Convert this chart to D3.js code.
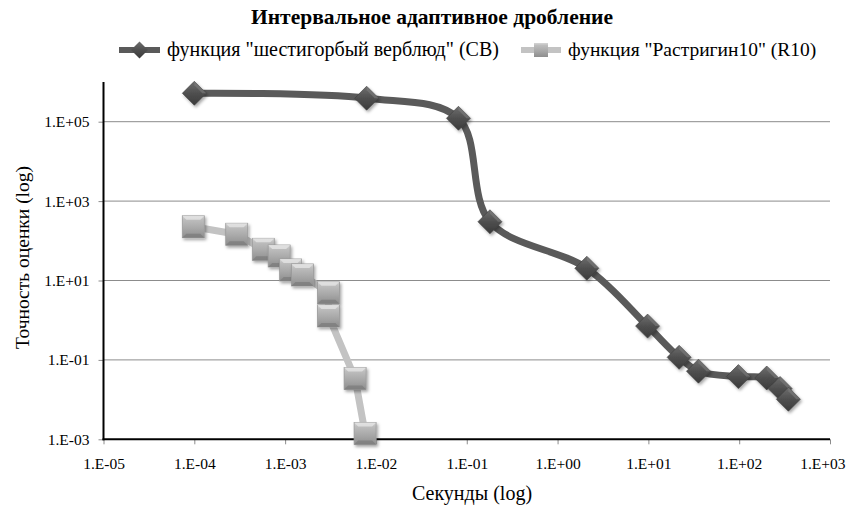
<!DOCTYPE html>
<html>
<head>
<meta charset="utf-8">
<script src="https://cdn.jsdelivr.net/npm/d3@7/dist/d3.min.js"></script>
<style>
  html, body { margin: 0; padding: 0; background: #fff; }
</style>
</head>
<body>
<svg id="chart" width="849" height="513"></svg>
<script>
// Camel (CB) series: time in seconds vs accuracy
const cbSeconds  = [1.0e-4, 7.9e-3, 0.081, 0.18, 2.1, 9.8, 21.8, 35.6, 98, 201, 282, 348];
const cbAccuracy = [5.2e5, 3.9e5, 1.22e5, 302, 20.3, 0.71, 0.116, 0.052, 0.038, 0.035, 0.019, 0.0102];

// Rastrigin-10 (R10) series
const r10Seconds  = [9.75e-5, 2.93e-4, 5.75e-4, 8.6e-4, 1.15e-3, 1.55e-3, 3.0e-3, 3.0e-3, 5.9e-3, 7.6e-3];
const r10Accuracy = [226, 146, 61, 41.4, 18.4, 13.8, 4.9, 1.28, 0.034, 0.0014];

const xTickValues = [1e-5, 1e-4, 1e-3, 1e-2, 1e-1, 1e0, 1e1, 1e2, 1e3];
const xTickLabels = ["1.E-05", "1.E-04", "1.E-03", "1.E-02", "1.E-01", "1.E+00", "1.E+01", "1.E+02", "1.E+03"];
const yTickValues = [1e-3, 1e-1, 1e1, 1e3, 1e5];
const yTickLabels = ["1.E-03", "1.E-01", "1.E+01", "1.E+03", "1.E+05"];

const seriesNames = ['функция "шестигорбый верблюд" (CB)', 'функция "Растригин10" (R10)'];

const FONT = "'Liberation Serif', 'Times New Roman', 'DejaVu Serif', serif";

const svg = d3.select("#chart");
const plot = { left: 103.5, right: 830, top: 82, bottom: 439.3 };

const x = d3.scaleLog().domain([1e-5, 1e3]).range([plot.left, plot.right]);
const y = d3.scaleLog().domain([1e-3, 1e6]).range([plot.bottom, plot.top]);

// Gradients and shadow used by the bevelled markers
const defs = svg.append("defs");
const shadow = defs.append("filter").attr("id", "shadow")
  .attr("x", "-50%").attr("y", "-50%").attr("width", "200%").attr("height", "200%");
shadow.append("feDropShadow").attr("dx", 1.5).attr("dy", 2).attr("stdDeviation", 1.6)
  .attr("flood-color", "#000").attr("flood-opacity", 0.35);

const sqGrad = defs.append("linearGradient").attr("id", "sqGrad")
  .attr("x1", 0).attr("y1", 0).attr("x2", 0).attr("y2", 1);
sqGrad.append("stop").attr("offset", "0%").attr("stop-color", "#d6d6d6");
sqGrad.append("stop").attr("offset", "18%").attr("stop-color", "#bdbdbd");
sqGrad.append("stop").attr("offset", "55%").attr("stop-color", "#a9a9a9");
sqGrad.append("stop").attr("offset", "100%").attr("stop-color", "#8e8e8e");

const dmGrad = defs.append("linearGradient").attr("id", "dmGrad")
  .attr("x1", 0).attr("y1", 0).attr("x2", 0).attr("y2", 1);
dmGrad.append("stop").attr("offset", "0%").attr("stop-color", "#6e6e6e");
dmGrad.append("stop").attr("offset", "50%").attr("stop-color", "#4f4f4f");
dmGrad.append("stop").attr("offset", "100%").attr("stop-color", "#3a3a3a");

// Horizontal gridlines
svg.append("g").selectAll("line")
  .data(yTickValues.filter(v => v > 1e-3))
  .join("line")
  .attr("x1", plot.left).attr("x2", plot.right)
  .attr("y1", d => y(d)).attr("y2", d => y(d))
  .attr("stroke", "#8c8c8c").attr("stroke-width", 1);

// Axes
const xAxis = d3.axisBottom(x).tickValues(xTickValues)
  .tickFormat((d, i) => xTickLabels[i]).tickSize(5).tickPadding(13.5);
const gx = svg.append("g").attr("transform", `translate(0,${plot.bottom})`).call(xAxis);
gx.attr("font-family", null).attr("font-size", null);
gx.select(".domain").remove();
gx.selectAll(".tick line").attr("stroke", "#8c8c8c");
gx.selectAll(".tick text").style("font-family", FONT).style("font-size", "15.5px").attr("fill", "#000");
// keep the last label inside the chart edge
gx.selectAll(".tick text").filter((d, i, n) => i === n.length - 1)
  .attr("text-anchor", "end").attr("x", 15);

const yAxis = d3.axisLeft(y).tickValues(yTickValues)
  .tickFormat((d, i) => yTickLabels[i]).tickSize(5).tickPadding(9);
const gy = svg.append("g").attr("transform", `translate(${plot.left},0)`).call(yAxis);
gy.attr("font-family", null).attr("font-size", null);
gy.select(".domain").remove();
gy.selectAll(".tick line").attr("stroke", "#8c8c8c");
gy.selectAll(".tick text").style("font-family", FONT).style("font-size", "15.5px").attr("fill", "#000");

svg.append("line").attr("x1", plot.left).attr("x2", plot.left)
  .attr("y1", plot.top).attr("y2", plot.bottom + 1)
  .attr("stroke", "#000").attr("stroke-width", 2);
svg.append("line").attr("x1", plot.left - 1).attr("x2", plot.right)
  .attr("y1", plot.bottom).attr("y2", plot.bottom)
  .attr("stroke", "#000").attr("stroke-width", 2);

// Series data
const cb = cbSeconds.map((s, i) => ({ s, a: cbAccuracy[i] }));
const r10 = r10Seconds.map((s, i) => ({ s, a: r10Accuracy[i] }));

// R10 line and square markers
svg.append("path")
  .datum(r10)
  .attr("d", d3.line().x(d => x(d.s)).y(d => y(d.a)))
  .attr("fill", "none").attr("stroke", "#c3c3c3").attr("stroke-width", 7)
  .attr("stroke-linejoin", "round");

const sq = 22;
function drawSquare(g, cx, cy) {
  const m = g.append("g").attr("transform", `translate(${cx},${cy})`).attr("filter", "url(#shadow)");
  m.append("rect").attr("x", -sq / 2).attr("y", -sq / 2).attr("width", sq).attr("height", sq)
    .attr("fill", "url(#sqGrad)").attr("stroke", "#9a9a9a").attr("stroke-width", 0.8);
  // light top bevel
  m.append("path")
    .attr("d", `M${-sq/2},${-sq/2} L${sq/2},${-sq/2} L${sq/2-4},${-sq/2+4} L${-sq/2+4},${-sq/2+4} Z`)
    .attr("fill", "#e4e4e4").attr("opacity", 0.8);
  // dark bottom bevel
  m.append("path")
    .attr("d", `M${-sq/2},${sq/2} L${sq/2},${sq/2} L${sq/2-4},${sq/2-4} L${-sq/2+4},${sq/2-4} Z`)
    .attr("fill", "#7a7a7a").attr("opacity", 0.7);
}
const gR = svg.append("g");
r10.forEach(d => drawSquare(gR, x(d.s), y(d.a)));

// CB smoothed line and diamond markers
svg.append("path")
  .datum(cb)
  .attr("d", d3.line().x(d => x(d.s)).y(d => y(d.a)).curve(d3.curveCatmullRom.alpha(0.5)))
  .attr("fill", "none").attr("stroke", "#5a5a5a").attr("stroke-width", 7)
  .attr("stroke-linejoin", "round").attr("stroke-linecap", "round");

const dm = 12;
function drawDiamond(g, cx, cy) {
  const m = g.append("g").attr("transform", `translate(${cx},${cy})`).attr("filter", "url(#shadow)");
  m.append("path").attr("d", `M0,${-dm} L${dm},0 L0,${dm} L${-dm},0 Z`)
    .attr("fill", "url(#dmGrad)").attr("stroke", "#3d3d3d").attr("stroke-width", 0.6);
  m.append("path").attr("d", `M0,${-dm} L${dm},0 L${dm-4},0 L0,${-dm+4} Z`)
    .attr("fill", "#7d7d7d").attr("opacity", 0.6);
}
const gC = svg.append("g");
cb.forEach(d => drawDiamond(gC, x(d.s), y(d.a)));

function label(parent, txt, px, py, size, anchor, weight) {
  return parent.append("text").attr("x", px).attr("y", py)
    .attr("text-anchor", anchor || "start")
    .style("font-family", FONT).style("font-size", size + "px")
    .style("font-weight", weight || "normal").attr("fill", "#000").text(txt);
}

// Title
label(svg, "Интервальное адаптивное дробление", 432, 24, 21.5, "middle", "bold");

// Legend
const legendY = 50;
const leg1 = svg.append("g");
leg1.append("line").attr("x1", 119).attr("x2", 160).attr("y1", legendY).attr("y2", legendY)
  .attr("stroke", "#5a5a5a").attr("stroke-width", 6);
(function () {
  const m = leg1.append("g").attr("transform", `translate(139.5,${legendY})`);
  const s = 8.5;
  m.append("path").attr("d", `M0,${-s} L${s},0 L0,${s} L${-s},0 Z`).attr("fill", "url(#dmGrad)");
})();
label(leg1, seriesNames[0], 167, legendY + 6, 20);

const leg2 = svg.append("g");
leg2.append("line").attr("x1", 521).attr("x2", 561).attr("y1", legendY).attr("y2", legendY)
  .attr("stroke", "#c3c3c3").attr("stroke-width", 6);
leg2.append("rect").attr("x", 534).attr("y", legendY - 7).attr("width", 14).attr("height", 14)
  .attr("fill", "url(#sqGrad)");
label(leg2, seriesNames[1], 568, legendY + 6, 19.5);

// Axis titles
label(svg, "Секунды (log)", 472, 500, 20, "middle");
svg.append("g").attr("transform", "translate(29,257.5) rotate(-90)")
  .call(g => label(g, "Точность оценки (log)", 0, 0, 19.5, "middle"));
</script>
</body>
</html>
